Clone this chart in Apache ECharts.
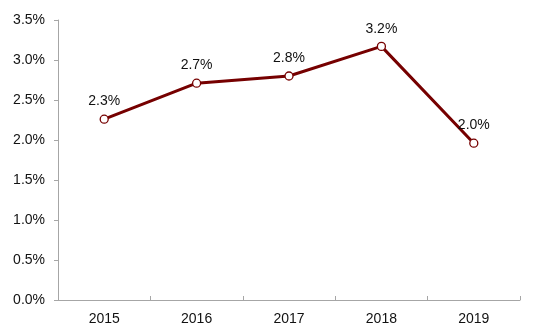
<!DOCTYPE html>
<html>
<head>
<meta charset="utf-8">
<script src="https://cdn.jsdelivr.net/npm/echarts@6/dist/echarts.min.js"></script>
<style>
  html, body { margin: 0; padding: 0; background: #fff; }
  #chart { width: 534px; height: 330px; }
</style>
</head>
<body>
<div id="chart"></div>
<script>
// Yearly rate, in percent
const years = ['2015', '2016', '2017', '2018', '2019'];
const rates = [2.26, 2.71, 2.80, 3.17, 1.96];

const chart = echarts.init(document.getElementById('chart'), null, { renderer: 'canvas' });

const textFont = { fontFamily: 'Liberation Sans, Arial, sans-serif', fontSize: 14, color: '#111111' };

chart.setOption({
  animation: false,
  grid: { left: 58, right: 14, top: 20, bottom: 30, containLabel: false },
  xAxis: {
    type: 'category',
    data: years,
    boundaryGap: true,
    axisLine: { lineStyle: { color: '#a6a6a6', width: 1 } },
    axisTick: { show: true, inside: true, length: 4, lineStyle: { color: '#a6a6a6' } },
    axisLabel: Object.assign({ margin: 12 }, textFont),
    splitLine: { show: false }
  },
  yAxis: {
    type: 'value',
    min: 0,
    max: 3.5,
    interval: 0.5,
    axisLine: { show: true, lineStyle: { color: '#a6a6a6', width: 1 } },
    axisTick: { show: true, inside: false, length: 4, lineStyle: { color: '#a6a6a6' } },
    axisLabel: Object.assign({ margin: 13, formatter: v => v.toFixed(1) + '%' }, textFont),
    splitLine: { show: false }
  },
  series: [{
    type: 'line',
    data: rates,
    symbol: 'circle',
    symbolSize: 8,
    showAllSymbol: true,
    lineStyle: { color: '#760000', width: 3 },
    itemStyle: { color: '#ffffff', borderColor: '#760000', borderWidth: 1.3 },
    label: Object.assign({
      show: true,
      position: 'top',
      distance: 6,
      formatter: p => p.value.toFixed(1) + '%'
    }, textFont),
    emphasis: { disabled: true }
  }]
});
</script>
</body>
</html>
